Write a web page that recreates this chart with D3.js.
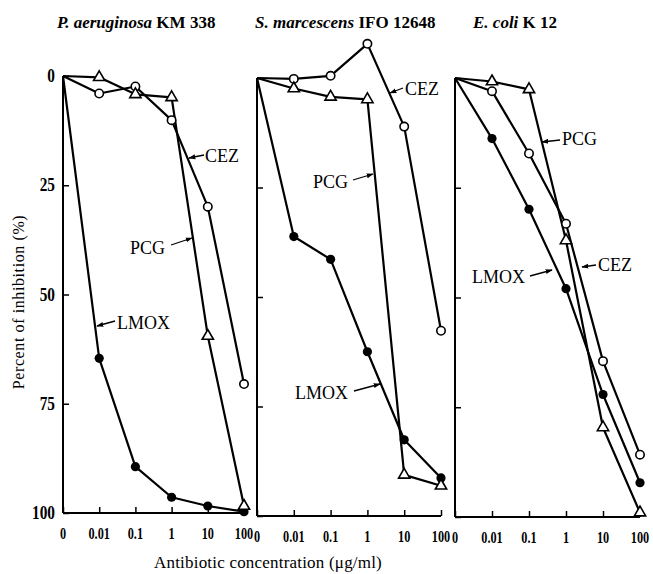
<!DOCTYPE html>
<html><head><meta charset="utf-8">
<script src="https://cdn.jsdelivr.net/npm/d3@7"></script>
<style>body{margin:0;background:#fff}svg{display:block}</style>
</head><body>
<svg id="c" width="653" height="574"></svg>
<script>
// ---- data ----
const concentrations = ["0", "0.01", "0.1", "1", "10", "100"];
const yTicks = [0, 25, 50, 75, 100];
const panelTitles = [
  ["P. aeruginosa", " KM 338"],
  ["S. marcescens", " IFO 12648"],
  ["E. coli", " K 12"]
];
const seriesNames = ["LMOX", "PCG", "CEZ"];
// P. aeruginosa KM 338
const pa_LMOX = [0, 64.6, 89.4, 96.4, 98.4, 99.7];
const pa_PCG  = [0, 0.3, 4.2, 4.9, 59.5, 98.4];
const pa_CEZ  = [0, 4.0, 2.4, 10.1, 29.9, 70.5];
// S. marcescens IFO 12648
const sm_LMOX = [0, 36.2, 41.4, 62.5, 82.6, 91.3];
const sm_PCG  = [0, 2.4, 4.3, 4.9, 90.6, 93.1];
const sm_CEZ  = [0, 0.2, -0.5, -7.8, 11.1, 57.7];
// E. coli K 12
const ec_LMOX = [0, 13.8, 29.9, 48.0, 72.1, 92.2];
const ec_PCG  = [0, 0.8, 2.6, 37.0, 79.6, 99.0];
const ec_CEZ  = [0, 3.0, 17.2, 33.2, 64.5, 85.8];

const panelData = [
  {LMOX: pa_LMOX, PCG: pa_PCG, CEZ: pa_CEZ},
  {LMOX: sm_LMOX, PCG: sm_PCG, CEZ: sm_CEZ},
  {LMOX: ec_LMOX, PCG: ec_PCG, CEZ: ec_CEZ}
];

// ---- layout ----
const panels = [
  {x0: 63, x1: 244, y0: 76, y1: 513, tx: 57},
  {x0: 257, x1: 441, y0: 78, y1: 516, tx: 255},
  {x0: 455, x1: 640, y0: 78, y1: 517, tx: 473}
];
// annotation label placement (pixel offsets, text anchor + arrow)
const annots = [
  [ {s:"CEZ",  tx:205, ty:162, a:[204,155,189,158]},
    {s:"PCG",  tx:130, ty:254, a:[171,245,192,238]},
    {s:"LMOX", tx:117, ty:329, a:[115,321,97,326]} ],
  [ {s:"CEZ",  tx:405, ty:95,  a:[403,88,390,93]},
    {s:"PCG",  tx:313, ty:188, a:[353,180,373,174]},
    {s:"LMOX", tx:295, ty:399, a:[354,391,380,384]} ],
  [ {s:"PCG",  tx:562, ty:145, a:[560,140,542,142]},
    {s:"CEZ",  tx:598, ty:271, a:[596,265,582,267]},
    {s:"LMOX", tx:472, ty:283, a:[530,276,552,270]} ]
];

const svg = d3.select("#c");
const serif = "'Liberation Serif','DejaVu Serif',serif";

svg.append("defs").append("marker")
  .attr("id", "ah").attr("viewBox", "0 0 10 10").attr("refX", 9).attr("refY", 5)
  .attr("markerWidth", 7).attr("markerHeight", 7).attr("orient", "auto")
  .attr("markerUnits", "userSpaceOnUse")
  .append("path").attr("d", "M0,1.5 L10,5 L0,8.5 Z").attr("fill", "#000");

panels.forEach((p, i) => {
  const x = d3.scalePoint().domain(concentrations).range([p.x0, p.x1]);
  const y = d3.scaleLinear().domain([0, 100]).range([p.y0, p.y1]);
  const g = svg.append("g");

  // left axis
  const ya = d3.axisRight(y).tickValues(yTicks).tickSize(6).tickFormat("");
  const gy = g.append("g").attr("transform", `translate(${p.x0},0)`).call(ya);
  gy.select(".domain").attr("d", `M0,${p.y0}V${p.y1}`).attr("stroke-width", 2);
  gy.selectAll(".tick line").attr("stroke-width", 1.5);

  // bottom axis
  const xa = d3.axisTop(x).tickSize(6).tickFormat("");
  const gx = g.append("g").attr("transform", `translate(0,${p.y1})`).call(xa);
  gx.select(".domain").attr("d", `M${p.x0},0H${p.x1}`).attr("stroke-width", 2);
  gx.selectAll(".tick line").attr("stroke-width", 1.5);

  // bottom tick labels
  g.selectAll(".xl").data(concentrations).join("text")
    .attr("x", 0).attr("y", 0)
    .attr("text-anchor", "middle").attr("font-family", serif)
    .attr("font-size", 17).attr("font-weight", "bold")
    .attr("transform", d => `translate(${x(d)},${p.y1 + 26}) scale(0.72,1)`)
    .text(d => d);

  if (i === 0) {
    g.selectAll(".yl").data(yTicks).join("text")
      .attr("x", 0).attr("y", 0)
      .attr("text-anchor", "end").attr("font-family", serif)
      .attr("font-size", 18).attr("font-weight", "bold")
      .attr("transform", d => `translate(${p.x0 - 8},${y(d) + 6}) scale(0.85,1)`)
      .text(d => d);
  }

  // title
  const t = svg.append("text").attr("x", p.tx).attr("y", 28)
    .attr("font-family", serif).attr("font-size", 17);
  t.append("tspan").attr("font-style", "italic").attr("font-weight", "bold").text(panelTitles[i][0]);
  t.append("tspan").attr("font-weight", "bold").text(panelTitles[i][1]);

  // lines
  const d = panelData[i];
  const line = d3.line().x((v, k) => x(concentrations[k])).y(v => y(v));
  seriesNames.forEach(s => {
    g.append("path").attr("d", line(d[s])).attr("fill", "none")
      .attr("stroke", "#000").attr("stroke-width", 2.2).attr("stroke-linejoin", "round");
  });
  // markers (skip the origin point)
  const pts = (s) => d[s].map((v, k) => ({k, v})).filter(o => o.k > 0);
  g.selectAll(".lm").data(pts("LMOX")).join("circle")
    .attr("cx", o => x(concentrations[o.k])).attr("cy", o => y(o.v)).attr("r", 4.6)
    .attr("fill", "#000");
  g.selectAll(".ce").data(pts("CEZ")).join("circle")
    .attr("cx", o => x(concentrations[o.k])).attr("cy", o => y(o.v)).attr("r", 4.2)
    .attr("fill", "#fff").attr("stroke", "#000").attr("stroke-width", 1.6);
  const tri = d3.symbol().type(d3.symbolTriangle).size(55);
  g.selectAll(".pc").data(pts("PCG")).join("path")
    .attr("d", tri).attr("transform", o => `translate(${x(concentrations[o.k])},${y(o.v)})`)
    .attr("fill", "#fff").attr("stroke", "#000").attr("stroke-width", 1.6);

  // annotations
  annots[i].forEach(a => {
    svg.append("text").attr("x", a.tx).attr("y", a.ty)
      .attr("font-family", serif).attr("font-size", 18).text(a.s);
    svg.append("line").attr("x1", a.a[0]).attr("y1", a.a[1]).attr("x2", a.a[2]).attr("y2", a.a[3])
      .attr("stroke", "#000").attr("stroke-width", 1.3).attr("marker-end", "url(#ah)");
  });
});

// axis titles
svg.append("text").attr("transform", "translate(24,302) rotate(-90)")
  .attr("text-anchor", "middle").attr("font-family", serif).attr("font-size", 16)
  .attr("letter-spacing", 0.6).text("Percent of inhibition (%)");
svg.append("text").attr("x", 268).attr("y", 568)
  .attr("text-anchor", "middle").attr("font-family", serif).attr("font-size", 17)
  .attr("letter-spacing", 0.2).text("Antibiotic concentration (μg/ml)");
</script>
</body></html>
